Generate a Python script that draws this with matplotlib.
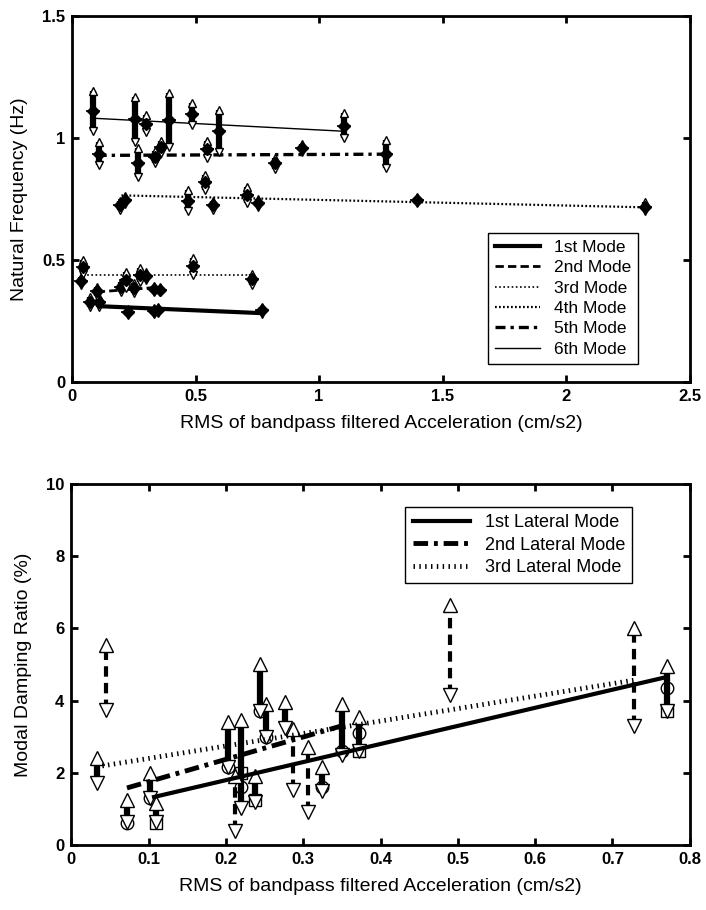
import numpy as np
import matplotlib.pyplot as plt
from matplotlib.ticker import FuncFormatter

plt.rcParams['font.family'] = ['Liberation Sans', 'DejaVu Sans']

# ---- top panel: natural frequency ranges per mode (x, low, high) ----
m1_x = [0.073, 0.11, 0.227, 0.33, 0.35, 0.77]
m1_lo = [0.31, 0.31, 0.275, 0.28, 0.285, 0.28]
m1_hi = [0.35, 0.35, 0.30, 0.305, 0.31, 0.31]

m2_x = [0.10, 0.20, 0.25, 0.33, 0.356]
m2_lo = [0.355, 0.37, 0.365, 0.37, 0.37]
m2_hi = [0.39, 0.41, 0.405, 0.395, 0.39]

m3_x = [0.036, 0.045, 0.22, 0.275, 0.30, 0.49, 0.73]
m3_lo = [0.40, 0.445, 0.385, 0.41, 0.42, 0.44, 0.40]
m3_hi = [0.43, 0.50, 0.45, 0.47, 0.45, 0.51, 0.445]

m4_x = [0.194, 0.215, 0.47, 0.54, 0.57, 0.708, 0.753, 1.395, 2.32]
m4_lo = [0.705, 0.73, 0.70, 0.79, 0.705, 0.735, 0.72, 0.735, 0.70]
m4_hi = [0.745, 0.765, 0.79, 0.85, 0.745, 0.80, 0.75, 0.76, 0.74]

m5_x = [0.11, 0.268, 0.336, 0.36, 0.545, 0.82, 0.93, 1.27]
m5_lo = [0.89, 0.84, 0.90, 0.94, 0.92, 0.875, 0.945, 0.88]
m5_hi = [0.985, 0.96, 0.95, 0.99, 0.99, 0.92, 0.975, 0.995]

m6_x = [0.086, 0.255, 0.30, 0.393, 0.485, 0.595, 1.10]
m6_lo = [1.03, 0.985, 1.025, 0.965, 1.055, 0.945, 1.0]
m6_hi = [1.195, 1.17, 1.095, 1.185, 1.145, 1.115, 1.105]

# trend lines (end points)
t1_x, t1_y = [0.125, 0.77], [0.311, 0.283]
t2_x, t2_y = [0.10, 0.36], [0.37, 0.39]
t3_x, t3_y = [0.045, 0.73], [0.438, 0.438]
t4_x, t4_y = [0.20, 2.32], [0.766, 0.717]
t5_x, t5_y = [0.10, 1.27], [0.930, 0.935]
t6_x, t6_y = [0.093, 1.10], [1.082, 1.029]
mode_labels = ['1st Mode', '2nd Mode', '3rd Mode', '4th Mode', '5th Mode', '6th Mode']

# ---- bottom panel: damping ratio ranges ----
sol_x = [0.033, 0.072, 0.102, 0.110, 0.203, 0.220, 0.237, 0.244, 0.252, 0.276, 0.324, 0.350, 0.372, 0.770]
sol_lo = [1.72, 0.65, 1.30, 0.65, 2.15, 1.02, 1.20, 3.70, 3.00, 3.25, 1.50, 2.50, 2.60, 3.70]
sol_hi = [2.40, 1.25, 2.00, 1.15, 3.40, 3.45, 1.90, 5.00, 3.90, 3.95, 2.15, 3.90, 3.55, 4.95]

dsh_x = [0.045, 0.212, 0.287, 0.306, 0.490, 0.728]
dsh_lo = [3.75, 0.38, 1.52, 0.92, 4.15, 3.30]
dsh_hi = [5.55, 1.90, 3.20, 2.70, 6.65, 6.00]

circ_x = [0.072, 0.102, 0.203, 0.22, 0.244, 0.252, 0.324, 0.350, 0.372, 0.770]
circ_y = [0.60, 1.30, 2.15, 1.60, 3.70, 3.00, 1.60, 2.60, 3.10, 4.35]
sq_x = [0.110, 0.22, 0.237, 0.372, 0.770]
sq_y = [0.62, 2.00, 1.25, 2.60, 3.70]

l1_x, l1_y = [0.107, 0.77], [1.33, 4.65]
l2_x, l2_y = [0.072, 0.35], [1.58, 3.30]
l3_x, l3_y = [0.04, 0.73], [2.19, 4.57]
lat_labels = ['1st Lateral Mode', '2nd Lateral Mode', '3rd Lateral Mode']

fig = plt.figure(figsize=(7.06, 9.10), dpi=100)
ax1 = fig.add_axes([0.102, 0.580, 0.875, 0.402])
ax2 = fig.add_axes([0.101, 0.0714, 0.876, 0.397])


def bars(ax, x, lo, hi, ls='-', lw=3, ms=6):
    ax.vlines(x, lo, hi, colors='k', linestyles=ls, linewidth=lw, zorder=3)
    ax.plot(x, hi, '^', mfc='white', mec='k', mew=1, ms=ms, ls='none', zorder=4)
    ax.plot(x, lo, 'v', mfc='white', mec='k', mew=1, ms=ms, ls='none', zorder=4)


for x, lo, hi in [(m1_x, m1_lo, m1_hi), (m2_x, m2_lo, m2_hi), (m3_x, m3_lo, m3_hi),
                  (m4_x, m4_lo, m4_hi), (m5_x, m5_lo, m5_hi), (m6_x, m6_lo, m6_hi)]:
    bars(ax1, x, lo, hi, lw=4.5, ms=6)
    mid = (np.array(lo) + np.array(hi)) / 2
    ax1.plot(x, mid, 'D', color='k', ms=6, ls='none', zorder=4)
    ax1.plot(x, mid, '_', color='k', ms=10, mew=1.2, ls='none', zorder=4)

ax1.plot(t1_x, t1_y, color='k', lw=3, label=mode_labels[0])
ax1.plot(t2_x, t2_y, color='k', lw=2, ls=(0, (3, 1.5)), label=mode_labels[1])
ax1.plot(t3_x, t3_y, color='k', lw=1.2, ls=(0, (1, 1.5)), label=mode_labels[2])
ax1.plot(t4_x, t4_y, color='k', lw=1.6, ls=(0, (0.8, 1)), label=mode_labels[3])
ax1.plot(t5_x, t5_y, color='k', lw=2.4, ls=(0, (3, 1.5, 1, 1.5)), label=mode_labels[4])
ax1.plot(t6_x, t6_y, color='k', lw=1, label=mode_labels[5])

ax1.set_xlim(0, 2.5)
ax1.set_ylim(0, 1.5)
ax1.set_xticks([0, 0.5, 1, 1.5, 2, 2.5])
ax1.set_yticks([0, 0.5, 1, 1.5])
ax1.set_xlabel('RMS of bandpass filtered Acceleration (cm/s2)', fontsize=14, labelpad=8)
ax1.set_ylabel('Natural Frequency (Hz)', fontsize=14, labelpad=10)
leg1 = ax1.legend(loc='lower right', bbox_to_anchor=(0.93, 0.027), fontsize=12.5,
                  frameon=True, fancybox=False, edgecolor='k', framealpha=1,
                  handlelength=2.6, borderpad=0.4, labelspacing=0.3)
leg1.get_frame().set_linewidth(1)

# bottom panel
bars(ax2, sol_x, sol_lo, sol_hi, ls='-', lw=4.5, ms=10)
bars(ax2, dsh_x, dsh_lo, dsh_hi, ls=(0, (2.5, 1.5)), lw=3, ms=10)
ax2.plot(circ_x, circ_y, 'o', mfc='white', mec='k', ms=9, ls='none', zorder=2)
ax2.plot(sq_x, sq_y, 's', mfc='white', mec='k', ms=8, ls='none', zorder=2)

ax2.plot(l1_x, l1_y, color='k', lw=3, label=lat_labels[0], zorder=5)
ax2.plot(l2_x, l2_y, color='k', lw=3.5, ls=(0, (3, 1.2, 0.8, 1.2)), label=lat_labels[1], zorder=5)
ax2.plot(l3_x, l3_y, color='k', lw=3.5, ls=(0, (0.3, 0.9)), label=lat_labels[2], zorder=5)

ax2.set_xlim(0, 0.8)
ax2.set_ylim(0, 10)
ax2.set_xticks(np.arange(0, 0.81, 0.1))
ax2.set_yticks([0, 2, 4, 6, 8, 10])
ax2.set_xlabel('RMS of bandpass filtered Acceleration (cm/s2)', fontsize=14, labelpad=8)
ax2.set_ylabel('Modal Damping Ratio (%)', fontsize=14, labelpad=10)
leg2 = ax2.legend(loc='upper right', bbox_to_anchor=(0.922, 0.961), fontsize=13,
                  frameon=True, fancybox=False, edgecolor='k', framealpha=1,
                  handlelength=3.2, borderpad=0.4, labelspacing=0.3)
leg2.get_frame().set_linewidth(1)

fmt = FuncFormatter(lambda v, p: ('%g' % round(v, 3)))
for ax in (ax1, ax2):
    ax.xaxis.set_major_formatter(fmt)
    ax.yaxis.set_major_formatter(fmt)
    ax.tick_params(direction='in', top=True, right=True, length=5, width=2,
                   labelsize=12, pad=5)
    for lab in ax.get_xticklabels() + ax.get_yticklabels():
        lab.set_fontweight('bold')
    for sp in ax.spines.values():
        sp.set_linewidth(2)

fig.savefig('out.png', dpi=100)
